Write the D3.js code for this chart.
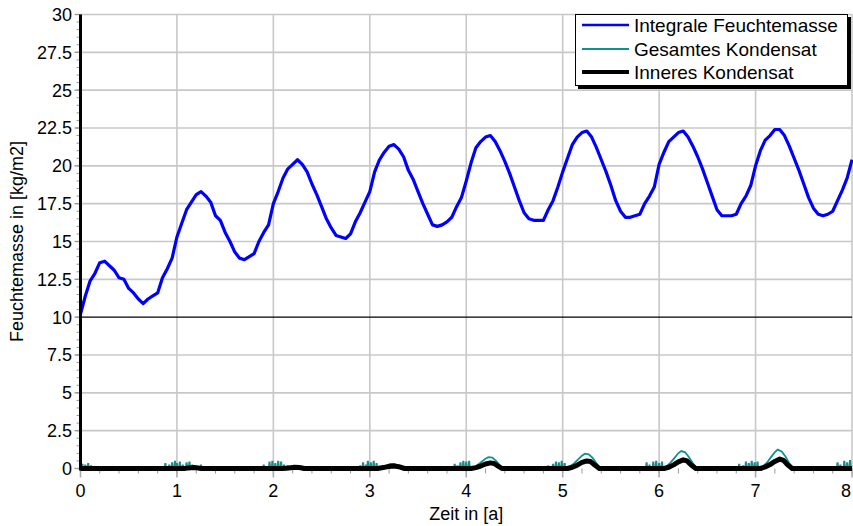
<!DOCTYPE html>
<html><head><meta charset="utf-8">
<script src="https://cdn.jsdelivr.net/npm/d3@7"></script>
<style>body{margin:0;background:#fff}svg{display:block}text{font-family:Arial,"Liberation Sans",sans-serif}</style>
</head><body><svg id="c" width="853" height="526"></svg>
<script>
// ---- data ----
const xTickLabels = ["0","1","2","3","4","5","6","7","8"];
const yTickLabels = ["0","2.5","5","7.5","10","12.5","15","17.5","20","22.5","25","27.5","30"];
const seriesNames = ["Integrale Feuchtemasse","Gesamtes Kondensat","Inneres Kondensat"];
const seriesColors = ["#0000ff","#12908f","#000000"];
// Integrale Feuchtemasse, sampled every 0.05 a from 0 to 8
const feuchteStep = 0.05;
const feuchte = [
10.2,11.4,12.4,12.9,13.6,13.7,13.4,13.1,12.6,12.5,11.9,11.6,11.2,10.9,11.2,11.4,11.6,12.6,13.2,13.9,
15.3,16.2,17.1,17.6,18.1,18.3,18.0,17.6,16.7,16.4,15.6,15.0,14.3,13.9,13.8,14.0,14.2,15.0,15.6,16.1,
17.5,18.3,19.2,19.8,20.1,20.4,20.1,19.6,18.8,18.1,17.3,16.5,15.9,15.4,15.3,15.2,15.5,16.3,16.9,17.6,
18.3,19.6,20.4,20.9,21.3,21.4,21.1,20.6,19.7,19.1,18.3,17.5,16.8,16.1,16.0,16.1,16.3,16.6,17.3,17.9,
19.0,20.2,21.2,21.6,21.9,22.0,21.6,21.0,20.3,19.5,18.6,17.7,16.9,16.5,16.4,16.4,16.4,17.1,17.7,18.6,
19.6,20.5,21.4,21.9,22.2,22.3,21.9,21.2,20.4,19.6,18.7,17.7,17.0,16.6,16.6,16.7,16.8,17.5,18.0,18.6,
20.1,20.9,21.6,21.9,22.2,22.3,21.9,21.3,20.6,19.8,18.9,18.0,17.1,16.7,16.7,16.7,16.8,17.5,18.0,18.7,
20.0,21.0,21.7,22.0,22.4,22.4,22.0,21.3,20.5,19.7,18.8,17.9,17.2,16.8,16.7,16.8,17.0,17.7,18.4,19.2,
20.4];
// Gesamtes Kondensat: short spikes [time, height]
const kondSpikes = [
[0.02,0.25],[0.05,0.2],[0.08,0.3],[0.11,0.15],[0.14,0.1],[0.22,0.1],
[0.86,0.1],[0.88,0.3],[0.92,0.2],[0.95,0.35],[0.98,0.45],[1.00,0.3],[1.03,0.4],[1.06,0.2],[1.10,0.35],[1.13,0.4],[1.16,0.2],[1.22,0.1],[1.25,0.2],
[1.68,0.05],[1.82,0.1],[1.86,0.05],[1.90,0.2],[1.93,0.1],[1.96,0.4],[1.99,0.45],[2.02,0.3],[2.05,0.45],[2.08,0.4],[2.11,0.2],[2.15,0.15],[2.20,0.1],
[2.62,0.05],[2.85,0.1],[2.90,0.15],[2.93,0.35],[2.96,0.2],[2.98,0.45],[3.01,0.35],[3.04,0.45],[3.07,0.3],
[3.70,0.05],[3.83,0.1],[3.88,0.25],[3.91,0.15],[3.94,0.35],[3.97,0.45],[4.00,0.4],[4.03,0.45],
[4.63,0.05],[4.75,0.1],[4.85,0.15],[4.90,0.25],[4.93,0.4],[4.96,0.35],[4.99,0.45],[5.02,0.3],
[5.60,0.05],[5.72,0.1],[5.82,0.1],[5.87,0.35],[5.90,0.2],[5.94,0.4],[5.97,0.45],[6.00,0.3],[6.03,0.4],
[6.55,0.05],[6.70,0.1],[6.83,0.25],[6.87,0.15],[6.90,0.4],[6.93,0.3],[6.96,0.45],[6.99,0.35],[7.02,0.4],
[7.55,0.05],[7.72,0.1],[7.85,0.35],[7.88,0.2],[7.92,0.45],[7.95,0.35],[7.98,0.5]
];
// Gesamtes Kondensat: smooth humps [time, value]
const kondHumps = [
[3.10,0],[3.13,0.1],[3.17,0.2],[3.21,0.3],[3.25,0.3],[3.30,0.2],[3.35,0.05],[3.38,0],
[4.06,0],[4.09,0.1],[4.12,0.25],[4.16,0.45],[4.20,0.65],[4.23,0.75],[4.27,0.72],[4.31,0.5],[4.35,0.2],[4.38,0],
[5.05,0],[5.08,0.15],[5.12,0.35],[5.16,0.6],[5.20,0.85],[5.23,0.98],[5.27,0.93],[5.31,0.7],[5.35,0.35],[5.39,0],
[6.06,0],[6.08,0.15],[6.12,0.4],[6.16,0.7],[6.20,1.02],[6.23,1.15],[6.27,1.07],[6.31,0.75],[6.35,0.35],[6.39,0],
[7.05,0],[7.08,0.15],[7.12,0.4],[7.16,0.75],[7.20,1.08],[7.23,1.25],[7.27,1.12],[7.31,0.8],[7.35,0.35],[7.39,0]
];
// Inneres Kondensat [time, value]
const innerKond = [
[0,0],[1.08,0],[1.12,0.04],[1.18,0.06],[1.22,0.03],[1.25,0],
[2.10,0],[2.16,0.04],[2.22,0.08],[2.27,0.07],[2.32,0],
[3.08,0],[3.14,0.06],[3.20,0.14],[3.25,0.16],[3.30,0.12],[3.36,0],
[4.05,0],[4.10,0.06],[4.15,0.16],[4.20,0.3],[4.25,0.37],[4.29,0.33],[4.33,0.16],[4.37,0],
[5.05,0],[5.10,0.08],[5.15,0.22],[5.20,0.4],[5.25,0.5],[5.29,0.46],[5.33,0.24],[5.38,0],
[6.05,0],[6.10,0.08],[6.15,0.24],[6.20,0.44],[6.25,0.57],[6.29,0.5],[6.33,0.24],[6.38,0],
[7.05,0],[7.10,0.1],[7.15,0.26],[7.20,0.47],[7.25,0.62],[7.29,0.54],[7.33,0.26],[7.38,0],
[8,0]
];

// ---- chart ----
const svg = d3.select("#c");
const x = d3.scaleLinear([0, 8], [80.5, 852]);
const y = d3.scaleLinear([0, 30], [468.5, 14.5]);
const gridC = "#c8c8c8";

svg.append("defs").append("clipPath").attr("id","clip")
  .append("rect").attr("x",80).attr("y",0).attr("width",773).attr("height",473);

// grid
const g = svg.append("g");
g.selectAll("line.vx").data(d3.range(1, 9)).join("line")
  .attr("x1", d => x(d)).attr("x2", d => x(d)).attr("y1", y(30)).attr("y2", y(0))
  .attr("stroke", gridC).attr("stroke-width", 1.6);
g.selectAll("line.hy").data(yTickLabels.map(Number).filter(v => v > 0)).join("line")
  .attr("x1", x(0)).attr("x2", x(8)).attr("y1", d => y(d)).attr("y2", d => y(d))
  .attr("stroke", d => d === 10 ? "#000" : gridC).attr("stroke-width", d => d === 10 ? 1.2 : 1.6);

// minor ticks
const yMinor = d3.range(0, 30.01, 0.5);
svg.append("g").selectAll("line").data(yMinor).join("line")
  .attr("x1", x(0) - 4).attr("x2", x(0)).attr("y1", d => y(d)).attr("y2", d => y(d))
  .attr("stroke", "#999").attr("stroke-width", 1);
svg.append("g").selectAll("line").data(yTickLabels.map(Number)).join("line")
  .attr("x1", x(0) - 6).attr("x2", x(0)).attr("y1", d => y(d)).attr("y2", d => y(d))
  .attr("stroke", "#999").attr("stroke-width", 1.4);
const xMinor = d3.range(0, 8.01, 0.2);
svg.append("g").selectAll("line").data(xMinor).join("line")
  .attr("x1", d => x(d)).attr("x2", d => x(d)).attr("y1", y(0)).attr("y2", y(0) + 5)
  .attr("stroke", "#999").attr("stroke-width", 1);
svg.append("g").selectAll("line").data(xTickLabels.map(Number)).join("line")
  .attr("x1", d => x(d)).attr("x2", d => x(d)).attr("y1", y(0)).attr("y2", y(0) + 9)
  .attr("stroke", "#aaa").attr("stroke-width", 1.6);

// tick labels
svg.append("g").selectAll("text").data(yTickLabels).join("text")
  .attr("x", 72).attr("y", d => y(+d)).attr("dy", "0.36em").attr("text-anchor", "end")
  .attr("font-size", 18).attr("fill", "#000").text(d => d);
svg.append("g").selectAll("text").data(xTickLabels).join("text")
  .attr("x", d => Math.min(x(+d), 846)).attr("y", 497).attr("text-anchor", "middle")
  .attr("font-size", 18).attr("fill", "#000").text(d => d);

// axis titles
svg.append("text").attr("x", x(4)).attr("y", 520).attr("text-anchor", "middle")
  .attr("font-size", 18).text("Zeit in [a]");
svg.append("text").attr("transform", `translate(23,${(y(0)+y(30))/2}) rotate(-90)`)
  .attr("text-anchor", "middle").attr("font-size", 18).text("Feuchtemasse in [kg/m2]");

// series
const plot = svg.append("g").attr("clip-path", "url(#clip)");
const line = d3.line().x(d => x(d[0])).y(d => y(d[1]));

// Gesamtes Kondensat
const tealPts = [[0,0]];
kondSpikes.forEach(([t, h]) => { tealPts.push([t - 0.007, 0], [t - 0.002, h], [t + 0.002, h], [t + 0.007, 0]); });
kondHumps.forEach(p => tealPts.push(p));
tealPts.push([8, 0]);
tealPts.sort((a, b) => a[0] - b[0]);
plot.append("path").datum(tealPts).attr("d", line)
  .attr("fill", "none").attr("stroke", seriesColors[1]).attr("stroke-width", 1.8);

// Inneres Kondensat
plot.append("path").datum(innerKond).attr("d", line)
  .attr("fill", "none").attr("stroke", seriesColors[2]).attr("stroke-width", 5).attr("stroke-linejoin", "round");

// Integrale Feuchtemasse
plot.append("path").datum(feuchte.map((v, i) => [i * feuchteStep, v])).attr("d", line)
  .attr("fill", "none").attr("stroke", seriesColors[0]).attr("stroke-width", 3.2).attr("stroke-linejoin", "round");

// left axis line
svg.append("line").attr("x1", x(0)).attr("x2", x(0)).attr("y1", y(30)).attr("y2", y(0) + 2)
  .attr("stroke", "#000").attr("stroke-width", 3);

// legend
const lg = svg.append("g");
lg.append("rect").attr("x", 578).attr("y", 17).attr("width", 273).attr("height", 72).attr("fill", "#000");
lg.append("rect").attr("x", 575.5).attr("y", 14.5).attr("width", 272).attr("height", 71)
  .attr("fill", "#fff").attr("stroke", "#000").attr("stroke-width", 1);
const rows = [25, 49, 72];
const widths = [2.5, 2, 4];
seriesNames.forEach((n, i) => {
  lg.append("line").attr("x1", 582).attr("x2", 629).attr("y1", rows[i]).attr("y2", rows[i])
    .attr("stroke", seriesColors[i]).attr("stroke-width", widths[i]);
  lg.append("text").attr("x", 634).attr("y", rows[i]).attr("dy", "0.36em")
    .attr("font-size", 19).text(n);
});
</script></body></html>
